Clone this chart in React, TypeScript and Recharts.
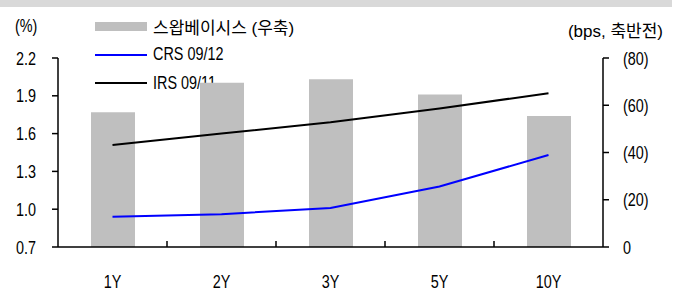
import {
  ComposedChart,
  Bar,
  Line,
  XAxis,
  YAxis,
} from "recharts";

const tenors = ["1Y", "2Y", "3Y", "5Y", "10Y"];
// swap basis, bps (negative, drawn on reversed right axis)
const swapBasis = [-57, -69.5, -71, -64.5, -55.5];
const crs = [0.94, 0.96, 1.01, 1.18, 1.43];
const irs = [1.51, 1.6, 1.69, 1.8, 1.92];
const leftTicks = [0.7, 1.0, 1.3, 1.6, 1.9, 2.2];
const rightTicks = [-80, -60, -40, -20, 0];

const data = tenors.map((t, i) => ({
  tenor: t,
  basis: swapBasis[i],
  crs: crs[i],
  irs: irs[i],
}));

const FONT = "'Liberation Sans', Arial, 'Noto Sans CJK KR', sans-serif";
const FS = 18;
const FS_KR = 17;
const NARROW = 0.8;
const W = 677;
const H = 291;
const LEFT_W = 58;
const RIGHT_W = 74;
const BAND = (W - LEFT_W - RIGHT_W) / tenors.length;

const legendItems = [
  { label: "스왑베이시스 (우축)", color: "#bfbfbf", kind: "bar", narrow: false },
  { label: "CRS 09/12", color: "#0000ff", kind: "line", narrow: true },
  { label: "IRS 09/11", color: "#000000", kind: "line", narrow: true },
];

function NarrowText({ x, y, anchor, children }: any) {
  return (
    <text
      transform={`translate(${x},${y}) scale(${NARROW},1)`}
      x={0}
      y={0}
      textAnchor={anchor}
      dominantBaseline="central"
      fill="#000"
      fontSize={FS}
      fontFamily={FONT}
    >
      {children}
    </text>
  );
}

function XTick(props: any) {
  const { x, y, payload, index } = props;
  return (
    <g>
      {index > 0 && (
        <line
          x1={x - BAND / 2}
          x2={x - BAND / 2}
          y1={y}
          y2={y - 6}
          stroke="#000"
          strokeWidth={1.5}
        />
      )}
      <NarrowText x={x} y={y + 34} anchor="middle">
        {payload.value}
      </NarrowText>
    </g>
  );
}

function LeftTick(props: any) {
  const { x, y, payload } = props;
  return (
    <NarrowText x={x} y={y} anchor="end">
      {Number(payload.value).toFixed(1)}
    </NarrowText>
  );
}

function RightTick(props: any) {
  const { x, y, payload } = props;
  const v = payload.value as number;
  return (
    <NarrowText x={x} y={y} anchor="start">
      {v < 0 ? `(${-v})` : `${v}`}
    </NarrowText>
  );
}

export default function App() {
  return (
    <div
      style={{
        position: "absolute",
        left: 0,
        top: 0,
        width: W,
        height: H,
        background: "#fff",
        fontFamily: FONT,
        fontSize: FS,
        color: "#000",
      }}
    >
      <div
        style={{
          position: "absolute",
          left: 0,
          top: 0,
          width: 672,
          height: 7,
          background: "#d9d9d9",
        }}
      />
      <div
        style={{
          position: "absolute",
          left: 15,
          top: 16,
          transform: `scaleX(${NARROW})`,
          transformOrigin: "left center",
        }}
      >
        (%)
      </div>
      <div
        style={{
          position: "absolute",
          right: 14,
          top: 17,
          fontSize: FS_KR,
          whiteSpace: "nowrap",
        }}
      >
        (bps, 축반전)
      </div>
      <div style={{ position: "absolute", left: 95, top: 12 }}>
        {legendItems.map((it) => (
          <div
            key={it.label}
            style={{ display: "flex", alignItems: "center", height: 28.5 }}
          >
            <span
              style={{
                display: "inline-block",
                width: 52,
                height: it.kind === "bar" ? 9 : 2,
                background: it.color,
                marginRight: 6,
              }}
            />
            <span
              style={{
                whiteSpace: "nowrap",
                display: "inline-block",
                fontSize: it.narrow ? FS : FS_KR,
                transform: it.narrow ? `scaleX(${NARROW})` : undefined,
                transformOrigin: "left center",
              }}
            >
              {it.label}
            </span>
          </div>
        ))}
      </div>
      <ComposedChart
        width={W}
        height={H}
        data={data}
        margin={{ top: 58, right: 0, bottom: 0, left: 0 }}
        style={{ position: "absolute", left: 0, top: 0 }}
      >
        <XAxis
          dataKey="tenor"
          height={44}
          axisLine={{ stroke: "#000", strokeWidth: 1.5 }}
          tickLine={false}
          tickSize={0}
          tickMargin={0}
          tick={<XTick />}
          interval={0}
        />
        <YAxis
          yAxisId="left"
          width={LEFT_W}
          domain={[0.7, 2.2]}
          ticks={leftTicks}
          interval={0}
          axisLine={{ stroke: "#000", strokeWidth: 1.5 }}
          tickLine={{ stroke: "#000", strokeWidth: 1.5 }}
          tickSize={6}
          tickMargin={16}
          tick={<LeftTick />}
          allowDataOverflow
        />
        <YAxis
          yAxisId="right"
          orientation="right"
          width={RIGHT_W}
          domain={[-80, 0]}
          ticks={rightTicks}
          interval={0}
          reversed
          axisLine={{ stroke: "#000", strokeWidth: 1.5 }}
          tickLine={{ stroke: "#000", strokeWidth: 1.5 }}
          tickSize={6}
          tickMargin={14}
          tick={<RightTick />}
        />
        <Bar
          yAxisId="right"
          dataKey="basis"
          fill="#bfbfbf"
          barSize={44}
          isAnimationActive={false}
        />
        <Line
          yAxisId="left"
          type="linear"
          dataKey="crs"
          stroke="#0000ff"
          strokeWidth={2}
          dot={false}
          activeDot={false}
          isAnimationActive={false}
        />
        <Line
          yAxisId="left"
          type="linear"
          dataKey="irs"
          stroke="#000000"
          strokeWidth={2}
          dot={false}
          activeDot={false}
          isAnimationActive={false}
        />
      </ComposedChart>
    </div>
  );
}
